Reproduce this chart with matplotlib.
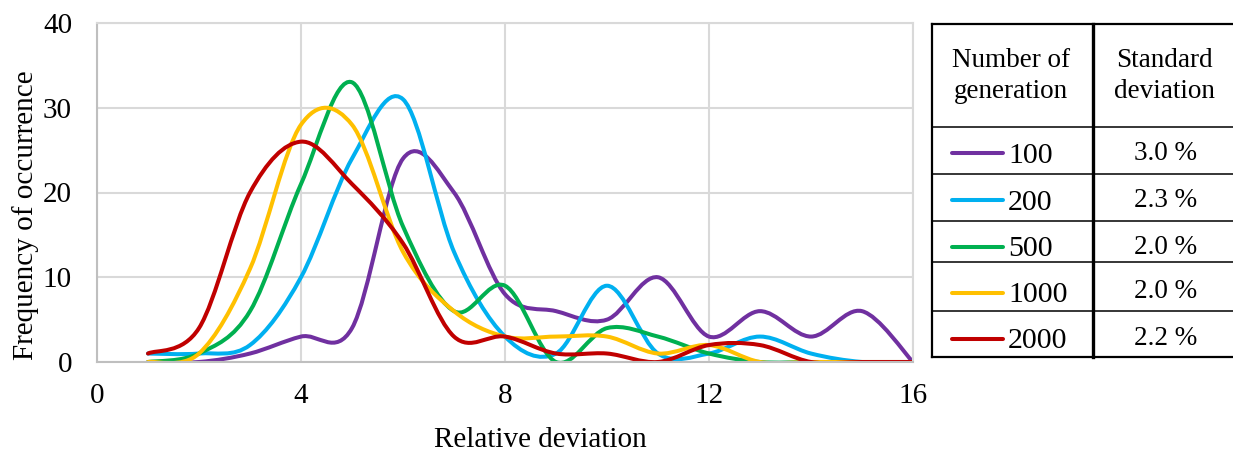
import matplotlib
matplotlib.use("Agg")
import matplotlib.pyplot as plt
from matplotlib.path import Path
from matplotlib.patches import PathPatch
import numpy as np

plt.rcParams['font.family'] = ['Liberation Serif', 'DejaVu Serif']

# ---- data ----
x_vals = [1, 2, 3, 4, 5, 6, 7, 8, 9, 10, 11, 12, 13, 14, 15, 16]
gen_100 = [0, 0, 1, 3, 4, 24, 20, 8, 6, 5, 10, 3, 6, 3, 6, 0]
gen_200 = [1, 1, 2, 10, 24, 31, 13, 3, 1, 9, 1, 1, 3, 1, 0, 0]
gen_500 = [0, 1, 6, 21, 33, 16, 6, 9, 0, 4, 3, 1, 0, 0, 0, 0]
gen_1000 = [0, 1, 11, 28, 28, 13, 6, 3, 3, 3, 1, 2, 0, 0, 0, 0]
gen_2000 = [1, 4, 20, 26, 21, 14, 3, 3, 1, 1, 0, 2, 2, 0, 0, 0]

series_labels = ["100", "200", "500", "1000", "2000"]
std_labels = ["3.0 %", "2.3 %", "2.0 %", "2.0 %", "2.2 %"]
colors = ["#7030A0", "#00B0F0", "#00B050", "#FFC000", "#C00000"]
x_ticks = [0, 4, 8, 12, 16]
y_ticks = [0, 10, 20, 30, 40]

W, H = 1233, 455
fig = plt.figure(figsize=(W / 100, H / 100), dpi=100)

L, R, T, B = 97, 913, 23, 362
ax = fig.add_axes([L / W, 1 - B / H, (R - L) / W, (B - T) / H])
ax.set_xlim(0, 16)
ax.set_ylim(0, 40)
ax.set_xticks(x_ticks)
ax.set_yticks(y_ticks)
ax.grid(True, color="#d9d9d9", lw=1.5)
ax.set_axisbelow(True)
for s in ["top", "right"]:
    ax.spines[s].set_color("#d9d9d9")
    ax.spines[s].set_linewidth(1.5)
for s in ["left", "bottom"]:
    ax.spines[s].set_color("#bfbfbf")
    ax.spines[s].set_linewidth(1.5)
ax.tick_params(length=0, labelsize=21)
ax.tick_params(axis="y", pad=18)
ax.tick_params(axis="x", pad=15)


def smooth_path(xs, ys):
    # Excel-style smoothed line: cubic Bezier segments through every point
    xs = np.asarray(xs, float)
    ys = np.asarray(ys, float)
    n = len(xs)
    verts = [(xs[0], ys[0])]
    codes = [Path.MOVETO]
    for i in range(n - 1):
        xp, yp = (xs[i - 1], ys[i - 1]) if i > 0 else (xs[i], ys[i])
        xn, yn = (xs[i + 2], ys[i + 2]) if i + 2 < n else (xs[i + 1], ys[i + 1])
        c1 = (xs[i] + (xs[i + 1] - xp) / 6, ys[i] + (ys[i + 1] - yp) / 6)
        c2 = (xs[i + 1] - (xn - xs[i]) / 6, ys[i + 1] - (yn - ys[i]) / 6)
        verts += [c1, c2, (xs[i + 1], ys[i + 1])]
        codes += [Path.CURVE4] * 3
    return Path(verts, codes)


all_series = [gen_100, gen_200, gen_500, gen_1000, gen_2000]
for ys, c in zip(all_series, colors):
    patch = PathPatch(smooth_path(x_vals, ys), fill=False, edgecolor=c,
                      lw=2.9, capstyle="round", joinstyle="round",
                      transform=ax.transData, clip_on=True)
    ax.add_patch(patch)

fig.text(540 / W, 1 - 440 / H, "Relative deviation", ha="center", va="center",
         fontsize=21)
fig.text(26 / W, 1 - 215 / H, "Frequency of occurrence", ha="center",
         va="center", rotation=90, fontsize=21)

# ---- table legend ----
tx = fig.add_axes([0, 0, 1, 1])
tx.set_xlim(0, W)
tx.set_ylim(H, 0)
tx.axis("off")

x0, xm, x1 = 931.5, 1093.3, 1233
row_lines = [24, 127, 174, 221, 262, 311, 357]
tx.plot([x0, x1], [row_lines[0]] * 2, color="black", lw=1.6)
tx.plot([x0, x1], [row_lines[-1]] * 2, color="black", lw=1.6)
for yl in row_lines[1:-1]:
    tx.plot([x0, x1], [yl, yl], color="black", lw=1.1)
tx.plot([x0, x0], [row_lines[0], row_lines[-1]], color="black", lw=1.6)
tx.plot([xm, xm], [row_lines[0], row_lines[-1]], color="black", lw=2.4)

tx.text(1011, 76, "Number of\ngeneration", ha="center", va="center",
        fontsize=19.5, linespacing=1.3)
tx.text(1164, 76, "Standard\ndeviation", ha="center", va="center",
        fontsize=19.5, linespacing=1.3)

baselines = [163, 210, 256.5, 301.5, 348]
line_ys = [153, 200, 246.5, 292.5, 339]
for lab, sd, c, bl, ly in zip(series_labels, std_labels, colors, baselines, line_ys):
    tx.plot([952, 1003], [ly, ly], color=c, lw=2.9, solid_capstyle="round")
    tx.text(1008, bl, lab, ha="left", va="baseline", fontsize=21.5)
    tx.text(1166, bl - 3, sd, ha="center", va="baseline", fontsize=19.5)

fig.savefig("out.png", dpi=100)
